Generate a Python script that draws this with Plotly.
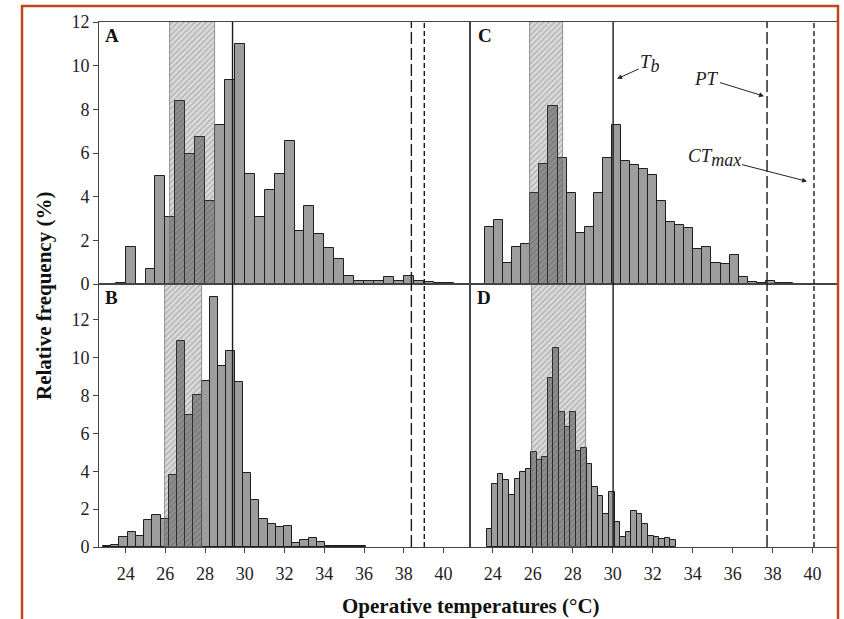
import numpy as np
import plotly.graph_objects as go

FONT = "Liberation Serif"

# ---------------- data (relative frequency, %) ----------------
# Panel A: bins of 0.5 degC starting at 23.5
A_start, A_width = 23.5, 0.5
A_vals = [0.05, 1.7, 0.0, 0.7, 4.95, 3.05, 8.4, 5.95, 6.75, 3.8, 7.3, 9.35, 11.0,
          5.05, 3.05, 4.3, 5.05, 6.55, 2.45, 3.55, 2.3, 1.65, 1.15, 0.35, 0.15,
          0.15, 0.15, 0.3, 0.15, 0.35, 0.15, 0.08, 0.06, 0.05]

# Panel B
B_start, B_width = 22.86, 0.414
B_vals = [0.07, 0.1, 0.51, 0.81, 0.58, 1.45, 1.69, 1.46, 3.81, 10.89, 6.96, 8.02,
          8.77, 13.21, 9.57, 10.34, 8.72, 3.89, 2.48, 1.46, 1.23, 1.06, 1.09, 0.19,
          0.37, 0.46, 0.25, 0.06, 0.06, 0.05, 0.06, 0.07]

# Panel C
C_start, C_width = 23.615, 0.453
C_vals = [2.62, 2.92, 0.95, 1.68, 1.83, 4.15, 5.51, 8.14, 5.76, 4.18, 2.35, 2.62,
          4.15, 5.76, 7.27, 5.63, 5.45, 5.27, 4.99, 3.80, 2.85, 2.70, 2.58, 1.59,
          1.68, 0.95, 0.90, 1.33, 0.34, 0.08, 0.03, 0.14, 0.05, 0.03]

# Panel D
D_start, D_width = 23.70, 0.278
D_vals = [0.95, 3.31, 3.84, 3.52, 2.75, 3.58, 3.95, 4.12, 5.0, 4.6, 4.77, 8.91,
          10.5, 7.14, 6.33, 7.14, 5.07, 5.25, 4.39, 3.19, 2.71, 1.73, 2.89, 1.30,
          0.55, 0.78, 1.92, 1.73, 1.23, 0.6, 0.55, 0.41, 0.46, 0.37]

# preferred-temperature ranges (hatched bands)
A_band = [26.25, 28.52]
B_band = [26.0, 27.83]
C_band = [25.87, 27.53]
D_band = [25.98, 28.65]

# reference temperatures: Tb, PT, CTmax
left_Tb, left_PT, left_CT = 29.38, 38.38, 39.03
right_Tb, right_PT, right_CT = 30.02, 37.72, 40.07

x_ticks = [24, 26, 28, 30, 32, 34, 36, 38, 40]
y_ticks = [0, 2, 4, 6, 8, 10, 12]

panel_letters = ["A", "B", "C", "D"]

# ---------------- figure ----------------
W, H = 844, 619
fig = go.Figure()

panels = [
    ("x", "y", A_start, A_width, A_vals, A_band, (left_Tb, left_PT, left_CT), 12.0),
    ("x2", "y2", B_start, B_width, B_vals, B_band, (left_Tb, left_PT, left_CT), 13.9),
    ("x3", "y3", C_start, C_width, C_vals, C_band, (right_Tb, right_PT, right_CT), 12.0),
    ("x4", "y4", D_start, D_width, D_vals, D_band, (right_Tb, right_PT, right_CT), 13.9),
]

shapes = []
for xa, ya, start, width, vals, band, refs, ymax in panels:
    centers = start + width * (np.arange(len(vals)) + 0.5)
    fig.add_trace(go.Bar(
        x=centers, y=vals, width=width, xaxis=xa, yaxis=ya,
        marker=dict(color="#9d9d9d", line=dict(color="#1e1e1e", width=1)),
        showlegend=False, hoverinfo="skip"))
    fig.add_trace(go.Bar(
        x=[(band[0] + band[1]) / 2], y=[ymax], width=[band[1] - band[0]], base=0,
        xaxis=xa, yaxis=ya,
        marker=dict(color="rgba(90,90,90,0.22)",
                    line=dict(color="rgba(110,110,110,0.9)", width=0.8),
                    pattern=dict(shape="/", fgcolor="rgba(60,60,60,0.6)",
                                 size=4, solidity=0.3, fillmode="overlay")),
        showlegend=False, hoverinfo="skip"))
    tb, pt, ct = refs
    yref = ya + " domain"
    shapes.append(dict(type="line", xref=xa, yref=yref, x0=tb, x1=tb, y0=0, y1=1,
                       line=dict(color="#1a1a1a", width=1.4)))
    shapes.append(dict(type="line", xref=xa, yref=yref, x0=pt, x1=pt, y0=0, y1=1,
                       line=dict(color="#1a1a1a", width=1.4, dash="12px,4px")))
    shapes.append(dict(type="line", xref=xa, yref=yref, x0=ct, x1=ct, y0=0, y1=1,
                       line=dict(color="#1a1a1a", width=1.4, dash="5px,3px")))

# orange page frame
shapes.append(dict(type="rect", xref="paper", yref="paper",
                   x0=22 / W, x1=838 / W, y0=-0.05, y1=1 - 6 / H,
                   line=dict(color="#c0461b", width=2.5), layer="above"))

def px_x(p):
    return p / W

def px_y(p):
    return 1 - p / H

xl = [px_x(99), px_x(470)]
xr = [px_x(470), px_x(838)]
yt = [px_y(284), px_y(22)]
yb = [px_y(547), px_y(284)]

tickfont = dict(family=FONT, size=18, color="#222")
common_x = dict(showgrid=False, zeroline=False, showline=True, mirror=True,
                linecolor="#444", linewidth=1, automargin=False)
common_y = dict(showgrid=False, zeroline=False, showline=True, mirror=True,
                linecolor="#444", linewidth=1, automargin=False)

fig.update_layout(
    template="none",
    width=W, height=H, margin=dict(l=0, r=0, t=0, b=0, pad=0, autoexpand=False),
    paper_bgcolor="white", plot_bgcolor="white",
    barmode="overlay", bargap=0,
    font=dict(family=FONT, color="#222"),
    shapes=shapes,
    xaxis=dict(domain=xl, range=[22.66, 41.33], anchor="y", showticklabels=False,
               ticks="", **common_x),
    yaxis=dict(domain=yt, range=[0, 12], anchor="x", tickvals=y_ticks, ticks="outside",
               ticklen=5, tickcolor="#444", tickfont=tickfont, **common_y),
    xaxis2=dict(domain=xl, range=[22.66, 41.33], anchor="y2", tickvals=x_ticks,
                ticks="outside", ticklen=5, tickcolor="#444", tickfont=tickfont,
                ticklabelstandoff=5, **common_x),
    yaxis2=dict(domain=yb, range=[0, 13.9], anchor="x2", tickvals=y_ticks, ticks="outside",
                ticklen=5, tickcolor="#444", tickfont=tickfont, **common_y),
    xaxis3=dict(domain=xr, range=[22.86, 41.27], anchor="y3", showticklabels=False,
                ticks="", **common_x),
    yaxis3=dict(domain=yt, range=[0, 12], anchor="x3", showticklabels=False, ticks="",
                **common_y),
    xaxis4=dict(domain=xr, range=[22.86, 41.27], anchor="y4", tickvals=x_ticks,
                ticks="outside", ticklen=5, tickcolor="#444", tickfont=tickfont,
                ticklabelstandoff=5, **common_x),
    yaxis4=dict(domain=yb, range=[0, 13.9], anchor="x4", showticklabels=False, ticks="",
                **common_y),
)

annotations = []
# panel letters
for letter, (xp, yp) in zip(panel_letters, [(112, 36), (111, 297), (485, 35), (484, 297)]):
    annotations.append(dict(text="<b>%s</b>" % letter, xref="paper", yref="paper",
                            x=px_x(xp), y=px_y(yp), xanchor="center", yanchor="middle",
                            showarrow=False, font=dict(family=FONT, size=19, color="#111")))
# axis titles
annotations.append(dict(text="<b>Relative frequency (%)</b>", xref="paper", yref="paper",
                        x=px_x(44), y=px_y(296), textangle=-90, showarrow=False,
                        xanchor="center", yanchor="middle",
                        font=dict(family=FONT, size=21, color="#111")))
annotations.append(dict(text="<b>Operative temperatures (°C)</b>", xref="paper",
                        yref="paper", x=px_x(471), y=px_y(606), showarrow=False,
                        xanchor="center", yanchor="middle",
                        font=dict(family=FONT, size=21, color="#111")))
# reference-line labels in panel C
labfont = dict(family=FONT, size=19, color="#222")
annotations.append(dict(text="<i>T</i><sub><i><span style='font-size:18px'>b</span></i></sub>",
                        xref="x3", yref="y3",
                        x=right_Tb + 0.2, y=9.4, ax=33, ay=-15, showarrow=True,
                        arrowhead=2, arrowsize=1, arrowwidth=1, arrowcolor="#222",
                        font=labfont))
annotations.append(dict(text="<i>PT</i>", xref="x3", yref="y3",
                        x=right_PT - 0.15, y=8.6, ax=-58, ay=-18, showarrow=True,
                        arrowhead=2, arrowsize=1, arrowwidth=1, arrowcolor="#222",
                        font=labfont))
annotations.append(dict(text="<i>CT</i><sub><i><span style='font-size:18px'>max</span></i></sub>",
                        xref="x3", yref="y3",
                        x=right_CT - 0.35, y=4.7, ax=-93, ay=-24, showarrow=True,
                        arrowhead=2, arrowsize=1, arrowwidth=1, arrowcolor="#222",
                        font=labfont))
fig.update_layout(annotations=annotations)

fig.write_html("out.html", config={"displayModeBar": False},
               post_script="document.body.style.margin='0';document.body.style.overflow='hidden';")
